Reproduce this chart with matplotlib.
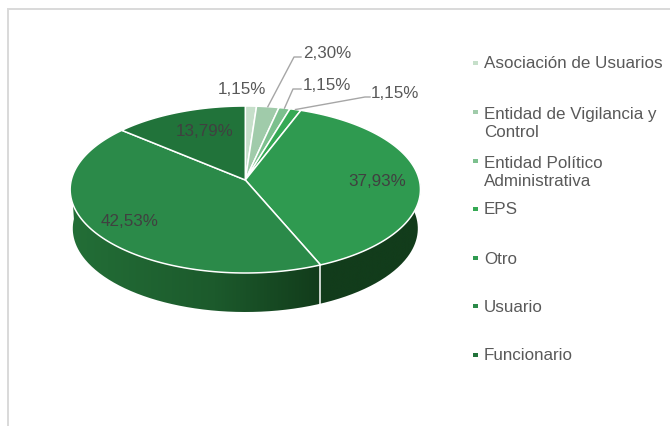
#!/usr/bin/env python3
# 3d looking pie, drawn by hand in pixel coords
import numpy as np
import matplotlib
matplotlib.use('Agg')
import matplotlib.pyplot as plt
from matplotlib.patches import Polygon, PathPatch
from matplotlib.path import Path
from matplotlib.colors import LinearSegmentedColormap

### data
categories = ['Asociación de Usuarios', 'Entidad de Vigilancia y\nControl',
              'Entidad Político\nAdministrativa', 'EPS', 'Otro', 'Usuario', 'Funcionario']
values = [1.15, 2.30, 1.15, 1.15, 37.93, 42.53, 13.79]
value_labels = ['1,15%', '2,30%', '1,15%', '1,15%', '37,93%', '42,53%', '13,79%']
colors = ['#c6dfca', '#a0cbaa', '#7cc08e', '#35a954', '#2f9a50', '#2b8a49', '#21733a']

### layout, in pixels of the 670x426 picture
hub_x, hub_y = 245.3, 180.0
A, B, k = 174.0, 82.4, 0.114   # perspective of the disc
depth = 39.0
shrink = 0.985                 # lower rim looks a bit narrower
label_pos = [(242, 90), (303, 54), (303, 86), (371, 94), (377, 182), (130, 222), (205, 132)]
elbows = {1: [(294, 57), (301, 57)], 2: [(293, 89), (301, 89)], 3: [(365, 97), (370, 97)]}
legend_y = [63, 112, 161, 209, 258, 306, 355]
legend_dy = [1, 11.5, 11.5, 1, 1, 1, 1]

plt.rcParams['font.family'] = ['Liberation Sans', 'DejaVu Sans']


def project(theta):
    # theta clockwise from the top of the pie, radians
    u, v = np.sin(theta), np.cos(theta)
    w = 1 + k * v
    return hub_x + A * u / w, hub_y - B * v / w


def lower(x, y):
    return hub_x + shrink * (x - hub_x), y + depth


fig = plt.figure(figsize=(6.7, 4.26), dpi=100)
ax = fig.add_axes([0, 0, 1, 1])
ax.set_xlim(0, 670)
ax.set_ylim(426, 0)
ax.axis('off')

# frame, only top and left show
ax.plot([8, 8, 670], [426, 9, 9], color='#d9d9d9', lw=1.4, solid_capstyle='butt', solid_joinstyle='miter')

edges = np.radians(np.concatenate([[0], np.cumsum(values)]) * 3.6)
usuario_start, usuario_end = edges[5], edges[6]

# side wall of the disc, front half only
t = np.linspace(np.radians(85), np.radians(270), 300)
tx, ty = project(t)
bx, by = lower(tx, ty)
wall = np.column_stack([np.concatenate([tx, bx[::-1]]), np.concatenate([ty, by[::-1]])])
clip = PathPatch(Path(np.vstack([wall, wall[0]])), transform=ax.transData, fc='none', ec='none')
ax.add_patch(clip)

split_x = project(usuario_start)[0]
cmap = LinearSegmentedColormap.from_list('wall', [(0, '#26783c'), (0.5, '#1c5a2c'), (split_x / 430, '#123c1b'), (1, '#123c1b')])
grad = np.linspace(0, 1, 430).reshape(1, -1) * (430 - 70) / 430 + 70 / 430
img = ax.imshow(grad, extent=[70, 430, 330, 100], cmap=cmap, vmin=0, vmax=1, aspect='auto', zorder=1)
img.set_clip_path(clip)
ax.set_xlim(0, 670)
ax.set_ylim(426, 0)

# white seam on the wall between Otro and Usuario
sx, sy = project(usuario_start)
ax.plot([sx, sx], [sy, sy + depth], color='white', lw=1.1, zorder=2)

# top faces
for i in range(len(values)):
    th = np.linspace(edges[i], edges[i + 1], 120)
    x, y = project(th)
    pts = np.column_stack([np.r_[hub_x, x], np.r_[hub_y, y]])
    ax.add_patch(Polygon(pts, closed=True, fc=colors[i], ec='white', lw=1.1, zorder=3, joinstyle='round'))

# leader lines for the thin slices
for i, pts in elbows.items():
    mx, my = project((edges[i] + edges[i + 1]) / 2)
    ax.plot([mx] + [p[0] for p in pts], [my] + [p[1] for p in pts], color='#a6a6a6', lw=1.0, zorder=4)

# value labels
for i, lab in enumerate(value_labels):
    lx, ly = label_pos[i]
    inside = i >= 4
    ax.text(lx, ly, lab, fontsize=12.25, color='#404040' if inside else '#595959',
            ha='center' if i in (0, 4, 5, 6) else 'left', va='center', zorder=5)

# legend
ax.scatter([475.5] * len(categories), legend_y, marker='s', s=9, c=colors, linewidths=0, zorder=5)
for name, y, dy in zip(categories, legend_y, legend_dy):
    ax.text(484, y + dy, name, fontsize=12.25, color='#595959', va='center', ha='left', linespacing=1.28)

fig.savefig('out.png', dpi=100)
